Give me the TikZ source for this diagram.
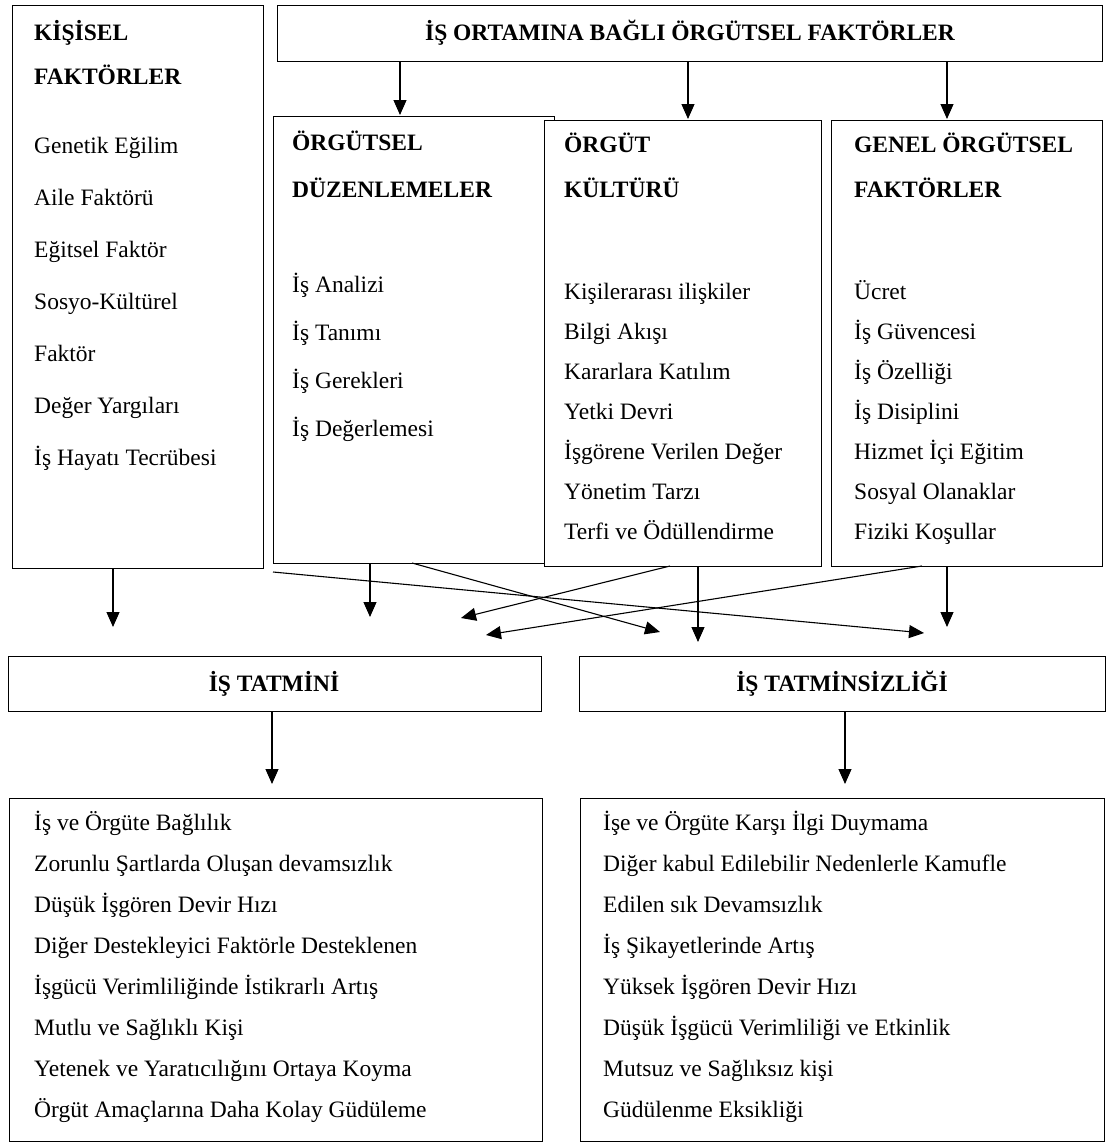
\documentclass[tikz,border=0pt]{standalone}
\usepackage{fontspec}
\setmainfont{Liberation Serif}
\usetikzlibrary{arrows.meta}
\begin{document}
\begin{tikzpicture}[x=1pt,y=-1pt,
  box/.style={draw, line width=1.3pt, inner sep=0pt, anchor=north west},
  txt/.style={anchor=base west, inner sep=0pt, font=\fontsize{23.5}{26}\selectfont},
  hdr/.style={anchor=base west, inner sep=0pt, font=\fontsize{23.5}{26}\selectfont\bfseries},
  ctr/.style={anchor=base, inner sep=0pt, font=\fontsize{23.5}{26}\selectfont\bfseries},
  arr/.style={line width=1.1pt, -{Triangle[length=15pt,width=13pt]}}]
\useasboundingbox (0,0) rectangle (1108,1146);
\fill[white] (0,0) rectangle (1108,1146);

% boxes
\node[box, minimum width=251pt, minimum height=563pt] (kis) at (12,5) {};
\node[box, minimum width=825pt, minimum height=56pt] (ort) at (277,5) {};
\node[box, minimum width=281pt, minimum height=447pt] (duz) at (273,116) {};
\node[box, fill=white, minimum width=277pt, minimum height=446pt] (kul) at (544,120) {};
\node[box, minimum width=271pt, minimum height=446pt] (gen) at (831,120) {};
\node[box, minimum width=533pt, minimum height=55pt] (tat) at (8,656) {};
\node[box, minimum width=526pt, minimum height=55pt] (tats) at (579,656) {};
\node[box, minimum width=533pt, minimum height=343pt] (pos) at (9,798) {};
\node[box, minimum width=524pt, minimum height=343pt] (neg) at (580,798) {};

% titles
\node[ctr] (ortT) at (690,40) {İŞ ORTAMINA BAĞLI ÖRGÜTSEL FAKTÖRLER};
\node[ctr] (tatT) at (274,691) {İŞ TATMİNİ};
\node[ctr] (tatsT) at (842,691) {İŞ TATMİNSİZLİĞİ};

% KISISEL
\node[hdr] (k0) at (34,40) {KİŞİSEL};
\node[hdr] (k00) at (34,84) {FAKTÖRLER};
\node[txt] (k1) at (34,153) {Genetik Eğilim};
\node[txt] (k2) at (34,205) {Aile Faktörü};
\node[txt] (k3) at (34,257) {Eğitsel Faktör};
\node[txt] (k4) at (34,309) {Sosyo-Kültürel};
\node[txt] (k5) at (34,361) {Faktör};
\node[txt] (k6) at (34,413) {Değer Yargıları};
\node[txt] (k7) at (34,465) {İş Hayatı Tecrübesi};

% ORGUTSEL DUZENLEMELER
\node[hdr] (d0) at (292,150) {ÖRGÜTSEL};
\node[hdr] (d00) at (292,197) {DÜZENLEMELER};
\node[txt] (d1) at (292,292) {İş Analizi};
\node[txt] (d2) at (292,340) {İş Tanımı};
\node[txt] (d3) at (292,388) {İş Gerekleri};
\node[txt] (d4) at (292,436) {İş Değerlemesi};

% ORGUT KULTURU
\node[hdr] (c0) at (564,152) {ÖRGÜT};
\node[hdr] (c00) at (564,197) {KÜLTÜRÜ};
\node[txt] (c1) at (564,299) {Kişilerarası ilişkiler};
\node[txt] (c2) at (564,339) {Bilgi Akışı};
\node[txt] (c3) at (564,379) {Kararlara Katılım};
\node[txt] (c4) at (564,419) {Yetki Devri};
\node[txt] (c5) at (564,459) {İşgörene Verilen Değer};
\node[txt] (c6) at (564,499) {Yönetim Tarzı};
\node[txt] (c7) at (564,539) {Terfi ve Ödüllendirme};

% GENEL
\node[hdr] (g0) at (854,152) {GENEL ÖRGÜTSEL};
\node[hdr] (g00) at (854,197) {FAKTÖRLER};
\node[txt] (g1) at (854,299) {Ücret};
\node[txt] (g2) at (854,339) {İş Güvencesi};
\node[txt] (g3) at (854,379) {İş Özelliği};
\node[txt] (g4) at (854,419) {İş Disiplini};
\node[txt] (g5) at (854,459) {Hizmet İçi Eğitim};
\node[txt] (g6) at (854,499) {Sosyal Olanaklar};
\node[txt] (g7) at (854,539) {Fiziki Koşullar};

% lower left
\node[txt] (p1) at (34,830) {İş ve Örgüte Bağlılık};
\node[txt] (p2) at (34,871) {Zorunlu Şartlarda Oluşan devamsızlık};
\node[txt] (p3) at (34,912) {Düşük İşgören Devir Hızı};
\node[txt] (p4) at (34,953) {Diğer Destekleyici Faktörle Desteklenen};
\node[txt] (p5) at (34,994) {İşgücü Verimliliğinde İstikrarlı Artış};
\node[txt] (p6) at (34,1035) {Mutlu ve Sağlıklı Kişi};
\node[txt] (p7) at (34,1076) {Yetenek ve Yaratıcılığını Ortaya Koyma};
\node[txt] (p8) at (34,1117) {Örgüt Amaçlarına Daha Kolay Güdüleme};

% lower right
\node[txt] (n1) at (603,830) {İşe ve Örgüte Karşı İlgi Duymama};
\node[txt] (n2) at (603,871) {Diğer kabul Edilebilir Nedenlerle Kamufle};
\node[txt] (n3) at (603,912) {Edilen sık Devamsızlık};
\node[txt] (n4) at (603,953) {İş Şikayetlerinde Artış};
\node[txt] (n5) at (603,994) {Yüksek İşgören Devir Hızı};
\node[txt] (n6) at (603,1035) {Düşük İşgücü Verimliliği ve Etkinlik};
\node[txt] (n7) at (603,1076) {Mutsuz ve Sağlıksız kişi};
\node[txt] (n8) at (603,1117) {Güdülenme Eksikliği};

% arrow end coordinates
\coordinate (a1) at (400,115);
\coordinate (a2) at (688,119);
\coordinate (a3) at (947,119);
\coordinate (b1) at (113,627);
\coordinate (b2) at (370,617);
\coordinate (b3) at (698,642);
\coordinate (b4) at (947,627);
\coordinate (s1) at (273,572);
\coordinate (e1) at (924,633);
\coordinate (s2) at (412,563);
\coordinate (e2) at (660,632);
\coordinate (s3) at (670,566);
\coordinate (e3) at (461,618);
\coordinate (s4) at (922,566);
\coordinate (e4) at (486,635);
\coordinate (l1) at (272,784);
\coordinate (l2) at (845,784);

% top arrows
\draw[arr] (a1 |- ort.south) -- (a1);
\draw[arr] (a2 |- ort.south) -- (a2);
\draw[arr] (a3 |- ort.south) -- (a3);

% down arrows
\draw[arr] (b1 |- kis.south) -- (b1);
\draw[arr] (b2 |- duz.south) -- (b2);
\draw[arr] (b3 |- kul.south) -- (b3);
\draw[arr] (b4 |- gen.south) -- (b4);

% crossing arrows
\draw[arr] (s1) -- (e1);
\draw[arr] (s2) -- (e2);
\draw[arr] (s3) -- (e3);
\draw[arr] (s4) -- (e4);

% to result lists
\draw[arr] (tat.south -| l1) -- (l1);
\draw[arr] (tats.south -| l2) -- (l2);
\end{tikzpicture}
\end{document}
